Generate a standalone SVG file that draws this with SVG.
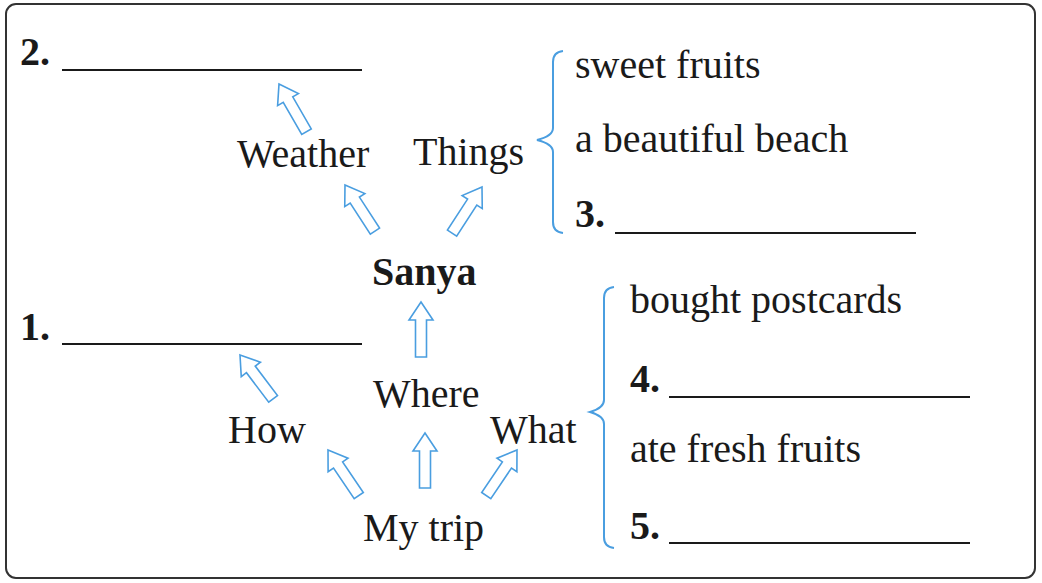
<svg xmlns="http://www.w3.org/2000/svg" width="1042" height="583" viewBox="0 0 1042 583">
<style>
.t{font-family:"Liberation Serif","Times New Roman",serif;font-size:40px;fill:#1a1a1a}
.b{font-weight:bold}
.ul{stroke:#1a1a1a;stroke-width:2}
.ar{fill:none;stroke:#4a9ee0;stroke-width:1.6;stroke-linejoin:miter}
.br{fill:none;stroke:#4a9ee0;stroke-width:2}
</style>
<defs>
<path id="arr" d="M0,0 L12,18 L5.5,18 L5.5,55 L-5.5,55 L-5.5,18 L-12,18 Z"/>
</defs>
<rect x="6" y="4" width="1029" height="574" rx="10" fill="#fff" stroke="#333" stroke-width="2"/>
<g id="connectors">
<use href="#arr" class="ar" transform="translate(279,84) rotate(-30)"/>
<use href="#arr" class="ar" transform="translate(345,185) rotate(-33)"/>
<use href="#arr" class="ar" transform="translate(482,187) rotate(33)"/>
<use href="#arr" class="ar" transform="translate(421,302)"/>
<use href="#arr" class="ar" transform="translate(240,355) rotate(-37)"/>
<use href="#arr" class="ar" transform="translate(328,450) rotate(-34)"/>
<use href="#arr" class="ar" transform="translate(425,433)"/>
<use href="#arr" class="ar" transform="translate(517,450) rotate(34)"/>
<path class="br" d="M563,51 Q553,52 553,62 L553,128 Q553,136 537,140 Q553,144 553,152 L553,222 Q553,232 563,233"/>
<path class="br" d="M614,287 Q604,288 604,298 L604,400 Q604,408 590,412 Q604,416 604,424 L604,537 Q604,547 614,548"/>
</g>
<g id="n2"><text class="t b" x="20" y="65">2.</text><line class="ul" x1="62" y1="70" x2="362" y2="70"/></g>
<g id="weather"><text class="t" x="237" y="167">Weather</text></g>
<g id="things"><text class="t" x="413" y="165">Things</text></g>
<g id="sweet"><text class="t" x="575" y="78">sweet fruits</text></g>
<g id="beach"><text class="t" x="575" y="152">a beautiful beach</text></g>
<g id="n3"><text class="t b" x="575" y="227">3.</text><line class="ul" x1="615" y1="233" x2="916" y2="233"/></g>
<g id="sanya"><text class="t b" x="372" y="285">Sanya</text></g>
<g id="n1"><text class="t b" x="20" y="340">1.</text><line class="ul" x1="62" y1="344" x2="362" y2="344"/></g>
<g id="where"><text class="t" x="373" y="407">Where</text></g>
<g id="how"><text class="t" x="228" y="443">How</text></g>
<g id="what"><text class="t" x="490" y="443">What</text></g>
<g id="mytrip"><text class="t" x="363" y="541">My trip</text></g>
<g id="postcards"><text class="t" x="630" y="313">bought postcards</text></g>
<g id="n4"><text class="t b" x="630" y="392">4.</text><line class="ul" x1="669" y1="397" x2="970" y2="397"/></g>
<g id="fruits"><text class="t" x="630" y="462">ate fresh fruits</text></g>
<g id="n5"><text class="t b" x="630" y="539">5.</text><line class="ul" x1="669" y1="543" x2="970" y2="543"/></g>
</svg>
